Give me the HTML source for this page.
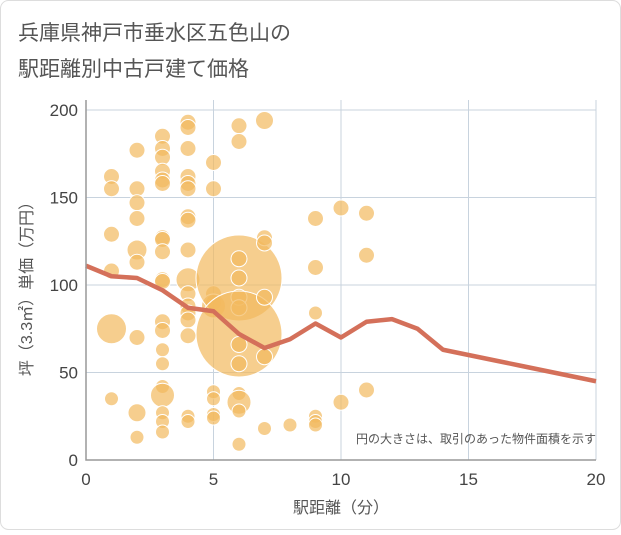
<!DOCTYPE html>
<html><head><meta charset="utf-8"><style>
body{margin:0;background:#fff;}
svg text{font-family:"Liberation Sans","Noto Sans CJK JP",sans-serif;}
</style></head><body>
<svg width="621" height="530" xmlns="http://www.w3.org/2000/svg">
<rect x="0.5" y="0.5" width="620" height="529" rx="8" fill="#fff" stroke="#ddd"/>
<text x="18" y="40" font-size="21" fill="#555">兵庫県神戸市垂水区五色山の</text>
<text x="18" y="76" font-size="21" fill="#555">駅距離別中古戸建て価格</text>
<g id="grid"></g>
<g id="bubbles"></g>
<g id="line"></g>
<g id="axes"></g>
<text x="596" y="443" font-size="12" fill="#555" text-anchor="end">円の大きさは、取引のあった物件面積を示す</text>
<text x="341" y="513" font-size="16" fill="#555" text-anchor="middle">駅距離（分）</text>
<text transform="translate(32,285) rotate(-90)" font-size="16" fill="#555" text-anchor="middle">坪（3.3㎡）単価（万円）</text>
</svg>
<script>
const xTicks=[0,5,10,15,20];
const yTicks=[0,50,100,150,200];
const bubbleX=[1,1,1,1,1,1,2,2,2,2,2,2,2,2,2,3,3,3,3,3,3,3,3,3,3,3,3,3,3,3,3,3,3,3,3,4,4,4,4,4,4,4,4,4,4,4,4,4,4,4,4,4,5,5,5,5,5,5,5,5,5,6,6,6,6,6,6,6,6,6,6,6,6,6,6,7,7,7,7,7,7,8,9,9,9,9,9,9,10,10,11,11,11];
const bubbleY=[162,155,129,108,75,35,177,155,147,138,120,113,70,27,13,185,178,173,165,160,158,127,126,119,103,102,79,74,63,55,42,37,27,22,16,193,190,178,162,158,155,139,137,120,103,95,88,84,80,71,25,22,170,155,95,90,88,39,35,26,24,191,182,104,115,104,93,87,72,66,55,38,33,28,9,194,127,124,93,59,18,20,138,110,84,25,22,20,144,33,141,117,40];
const bubbleR=[8,8,8,8,15,7,8,8,8,8,10,8,8,9,7,8,8,8,8,8,8,8,8,8,8,8,8,8,7,7,7,12,7,7,7,8,8,8,8,8,8,8,8,8,12,8,8,8,8,8,7,7,8,8,8,8,12,7,7,7,7,8,8,43,8,8,8,8,43,8,8,7,12,7,7,9,8,8,8,8,7,7,8,8,7,7,7,7,8,8,8,8,8];
const lineX=[0,1,2,3,4,5,6,7,8,9,10,11,12,13,14,15,16,17,18,19,20];
const lineY=[111,105,104,97,87,85,72,64,69,78,70,79,80.5,75,63,60,57,54,51,48,45];
const X0=86,X1=596,Y0=460,Y1=110;
const sx=v=>X0+(X1-X0)*v/20, sy=v=>Y0-(Y0-Y1)*v/200;
const NS="http://www.w3.org/2000/svg";
function mk(t,a,p){const e=document.createElementNS(NS,t);for(const k in a)e.setAttribute(k,a[k]);p.appendChild(e);return e;}
const g=document.getElementById('grid');
xTicks.forEach(t=>{const l=mk('line',{x1:sx(t),x2:sx(t),y1:Y1-10,y2:Y0,stroke:'#c8d3de','stroke-width':1},g);

});
yTicks.forEach(t=>{const l=mk('line',{x1:X0,x2:X1,y1:sy(t),y2:sy(t),stroke:'#c8d3de','stroke-width':1},g);

});
const b=document.getElementById('bubbles');
bubbleX.forEach((x,i)=>{const c=mk('circle',{cx:sx(x),cy:sy(bubbleY[i]),r:bubbleR[i],fill:'#f2b95e','fill-opacity':0.7,stroke:'#fff','stroke-width':1},b);

});
const lg=document.getElementById('line');
const p=mk('polyline',{points:lineX.map((x,i)=>sx(x)+','+sy(lineY[i])).join(' '),fill:'none',stroke:'#d4705a','stroke-width':4.5,'stroke-linejoin':'round'},lg);


const a=document.getElementById('axes');
const ax=mk('path',{d:`M${X0},${Y1-10}V${Y0}H${X1}`,fill:'none',stroke:'#999','stroke-width':1.5},a);


xTicks.forEach(t=>{const e=mk('text',{x:sx(t),y:485,'font-size':17,fill:'#444','text-anchor':'middle'},a);e.textContent=t;

});
yTicks.forEach(t=>{const e=mk('text',{x:X0-8,y:sy(t)+6,'font-size':17,fill:'#444','text-anchor':'end'},a);e.textContent=t;

});
</script>
</body></html>
